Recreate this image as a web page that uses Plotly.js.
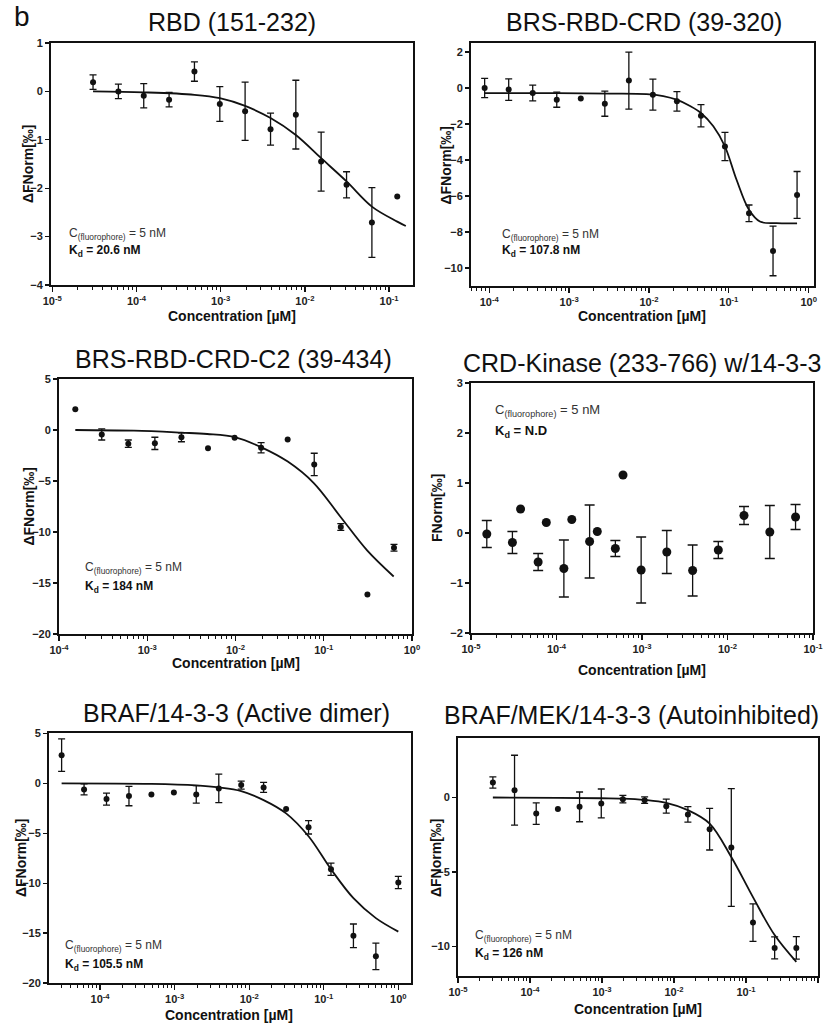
<!DOCTYPE html>
<html><head><meta charset="utf-8">
<script src="https://cdn.plot.ly/plotly-3.0.1.min.js"></script>
<style>html,body{margin:0;padding:0;background:#fff}#chart{width:826px;height:1024px}</style>
</head><body><div id="chart"></div>
<script>
const W = 826, H = 1024;

// ---------- Panel 1: RBD (151-232) ----------
const rbdConc = [3.05e-5, 6.1e-5, 1.22e-4, 2.44e-4, 4.88e-4, 9.77e-4, 1.95e-3, 3.91e-3, 7.81e-3, 0.0156, 0.03125, 0.0625, 0.125];
const rbdVal  = [0.19, 0, -0.09, -0.17, 0.41, -0.26, -0.41, -0.78, -0.48, -1.45, -1.93, -2.71, -2.17];
const rbdErr  = [0.15, 0.15, 0.25, 0.15, 0.2, 0.36, 0.6, 0.33, 0.71, 0.61, 0.27, 0.72, null];
const rbdFitConc = [3.05e-5, 1.22e-4, 4.88e-4, 9.77e-4, 1.95e-3, 3.91e-3, 7.81e-3, 0.0156, 0.03125, 0.0625, 0.125, 0.158];
const rbdFitVal  = [0, -0.02, -0.07, -0.14, -0.3, -0.55, -0.9, -1.38, -1.86, -2.38, -2.69, -2.78];

// ---------- Panel 2: BRS-RBD-CRD (39-320) ----------
const crdConc = [8.75e-5, 1.75e-4, 3.5e-4, 7.0e-4, 1.4e-3, 2.8e-3, 5.6e-3, 0.0112, 0.0224, 0.0448, 0.0895, 0.179, 0.358, 0.716];
const crdVal  = [0, -0.09, -0.28, -0.65, -0.58, -0.87, 0.41, -0.37, -0.74, -1.54, -3.25, -6.96, -9.05, -5.94];
const crdErr  = [0.54, 0.6, 0.44, 0.42, null, 0.7, 1.58, 0.86, 0.54, 0.62, 0.79, 0.46, 1.38, 1.3];
const crdFitConc = [8.75e-5, 6.97e-4, 3.24e-3, 9.35e-3, 0.0151, 0.0222, 0.0327, 0.0448, 0.064, 0.0895, 0.125, 0.179, 0.245, 0.397, 0.716];
const crdFitVal  = [-0.28, -0.29, -0.31, -0.34, -0.45, -0.65, -1.0, -1.39, -2.13, -3.25, -5.1, -6.77, -7.42, -7.51, -7.52];

// ---------- Panel 3: BRS-RBD-CRD-C2 (39-434) ----------
const c2Conc = [1.53e-4, 3.05e-4, 6.1e-4, 1.22e-3, 2.44e-3, 4.88e-3, 9.77e-3, 0.0195, 0.039, 0.078, 0.156, 0.3125, 0.625];
const c2Val  = [2.03, -0.43, -1.34, -1.31, -0.72, -1.80, -0.75, -1.74, -0.92, -3.38, -9.51, -16.13, -11.54];
const c2Err  = [null, 0.55, 0.36, 0.6, 0.43, null, null, 0.5, null, 1.1, 0.33, null, 0.33];
const c2FitConc = [1.53e-4, 7.06e-4, 2.45e-3, 4.78e-3, 0.01, 0.0197, 0.0391, 0.0771, 0.1545, 0.31, 0.62];
const c2FitVal  = [0, -0.07, -0.26, -0.39, -0.72, -1.7, -3.1, -5.2, -8.5, -11.8, -14.36];

// ---------- Panel 4: CRD-Kinase (233-766) w/14-3-3 ----------
const kinConc = [1.53e-5, 3.05e-5, 3.8e-5, 6.1e-5, 7.6e-5, 1.22e-4, 1.51e-4, 2.44e-4, 3.0e-4, 4.88e-4, 6.0e-4, 9.77e-4, 1.95e-3, 3.91e-3, 7.81e-3, 0.0156, 0.03125, 0.0625];
const kinVal  = [-0.02, -0.19, 0.48, -0.58, 0.21, -0.71, 0.27, -0.17, 0.03, -0.31, 1.16, -0.74, -0.38, -0.75, -0.34, 0.35, 0.02, 0.32];
const kinErr  = [0.27, 0.22, null, 0.17, null, 0.57, null, 0.73, null, 0.16, null, 0.66, 0.43, 0.51, 0.17, 0.18, 0.53, 0.25];

// ---------- Panel 5: BRAF/14-3-3 (Active dimer) ----------
const dimConc = [3.05e-5, 6.1e-5, 1.22e-4, 2.44e-4, 4.88e-4, 9.77e-4, 1.95e-3, 3.91e-3, 7.81e-3, 0.0156, 0.03125, 0.0625, 0.125, 0.25, 0.5, 1.0];
const dimVal  = [2.83, -0.6, -1.57, -1.27, -1.1, -0.9, -1.1, -0.5, -0.17, -0.4, -2.57, -4.4, -8.6, -15.27, -17.33, -9.93];
const dimErr  = [1.63, 0.55, 0.6, 0.97, null, null, 0.88, 1.43, 0.4, 0.5, null, 0.67, 0.62, 1.18, 1.33, 0.62];
const dimFitConc = [3.05e-5, 4.88e-4, 1.95e-3, 3.91e-3, 7.81e-3, 0.0156, 0.03125, 0.0625, 0.125, 0.25, 0.5, 1.0];
const dimFitVal  = [0, -0.05, -0.2, -0.4, -0.77, -1.67, -3.0, -5.3, -8.6, -11.5, -13.5, -14.85];

// ---------- Panel 6: BRAF/MEK/14-3-3 (Autoinhibited) ----------
const autoConc = [3.05e-5, 6.1e-5, 1.22e-4, 2.44e-4, 4.88e-4, 9.77e-4, 1.95e-3, 3.91e-3, 7.81e-3, 0.0156, 0.03125, 0.0625, 0.125, 0.25, 0.5];
const autoVal  = [1.01, 0.49, -1.08, -0.78, -0.63, -0.40, -0.11, -0.18, -0.58, -1.14, -2.13, -3.36, -8.41, -10.11, -10.11];
const autoErr  = [0.38, 2.35, 0.72, null, 1.0, 0.97, 0.25, 0.22, 0.47, 0.52, 1.4, 3.96, 1.26, 0.74, 0.76];
const autoFitConc = [3.05e-5, 2.44e-4, 9.77e-4, 1.95e-3, 3.91e-3, 7.81e-3, 0.0156, 0.03125, 0.0625, 0.125, 0.25, 0.5];
const autoFitVal  = [0, -0.02, -0.05, -0.07, -0.16, -0.36, -0.85, -1.75, -4.0, -6.7, -9.25, -11.05];

// ---------- Text ----------
const panelTitles = ["RBD (151-232)", "BRS-RBD-CRD (39-320)", "BRS-RBD-CRD-C2 (39-434)",
                     "CRD-Kinase (233-766) w/14-3-3", "BRAF/14-3-3 (Active dimer)", "BRAF/MEK/14-3-3 (Autoinhibited)"];
const yTitles = ["ΔFNorm[‰]", "ΔFNorm[‰]", "ΔFNorm[‰]", "FNorm[‰]", "ΔFNorm[‰]", "ΔFNorm[‰]"];
const xTitle = "Concentration [µM]";
const kdLabels = ["20.6 nM", "107.8 nM", "184 nM", "N.D", "105.5 nM", "126 nM"];
const fluorLabel = "5 nM";

const panels = [
  {conc: rbdConc, val: rbdVal, err: rbdErr, fitX: rbdFitConc, fitY: rbdFitVal},
  {conc: crdConc, val: crdVal, err: crdErr, fitX: crdFitConc, fitY: crdFitVal},
  {conc: c2Conc, val: c2Val, err: c2Err, fitX: c2FitConc, fitY: c2FitVal},
  {conc: kinConc, val: kinVal, err: kinErr, fitX: null, fitY: null},
  {conc: dimConc, val: dimVal, err: dimErr, fitX: dimFitConc, fitY: dimFitVal},
  {conc: autoConc, val: autoVal, err: autoErr, fitX: autoFitConc, fitY: autoFitVal}
];

// ---------- Layout geometry (pixels) ----------
const boxes = [[51,413,43,285],[471,814,43,286],[59,412,379,634],[471,813,383,633],[49,411,733,983],[458,818,738,976]];
const xRanges = [[-5.015,-0.716],[-4.229,0.067],[-4,0],[-5,-1],[-4.685,0.17],[-5,0]];
const yRanges = [[-4,1],[-11,2.5],[-20,5],[-2,3],[-20,5.05],[-12,4]];
const yDticks = [1,2,5,1,5,5];
const titlePos = [[232,22],[644,22],[233,359],[642,363],[236,713],[631,715]];
const xTitlePos = [[232,316],[642,316],[236,663],[642,670],[229,1015],[638,1009]];
const yTitleX = [28,445,28,437,21,436];
const cPos = [[67,234,251],[500,235,251],[83,568,587],[493,410,431],[63,946,965],[473,936,954]];
const mSize = [6,6,6,9,6,6];
const capW = [3.5,3.5,3.5,5,3.5,3.5];
const annoSize = [12,12,12,13,12,12];

const FONT = "Arial, 'Liberation Sans', Helvetica, sans-serif";
const px = v => v / W, py = v => 1 - v / H;

function minorVals(lo, hi) {
  const v = [];
  for (let k = Math.floor(lo); k <= Math.ceil(hi); k++)
    for (let m = 2; m <= 9; m++) {
      const val = m * Math.pow(10, k), l = Math.log10(val);
      if (l >= lo && l <= hi) v.push(val);
    }
  return v;
}
function majorVals(lo, hi) {
  const vals = [], txt = [];
  for (let k = Math.ceil(lo - 1e-9); k <= Math.floor(hi + 1e-9); k++) {
    vals.push(Math.pow(10, k)); txt.push('10<sup>' + k + '</sup>');
  }
  return {vals, txt};
}

const traces = [], layout = {
  width: W, height: H, margin: {l:0, r:0, t:0, b:0},
  paper_bgcolor: '#fff', plot_bgcolor: '#fff', showlegend: false,
  font: {family: FONT, color: '#111'}, annotations: []
};

panels.forEach((p, i) => {
  const n = i + 1, xs = 'x' + (n === 1 ? '' : n), ys = 'y' + (n === 1 ? '' : n);
  const b = boxes[i];
  const maj = majorVals(xRanges[i][0], xRanges[i][1]);
  layout['xaxis' + (n === 1 ? '' : n)] = {
    type: 'log', domain: [px(b[0]), px(b[1])], anchor: ys, range: xRanges[i],
    tickmode: 'array', tickvals: maj.vals, ticktext: maj.txt,
    ticks: 'outside', ticklen: 5, tickwidth: 1.3, tickcolor: '#111',
    minor: {tickmode: 'array', tickvals: minorVals(xRanges[i][0], xRanges[i][1]), ticks: 'outside', ticklen: 3, tickwidth: 1, tickcolor: '#111'},
    showline: true, mirror: true, linecolor: '#111', linewidth: 2,
    showgrid: false, zeroline: false,
    tickfont: {size: 11, weight: 'bold', color: '#222', family: FONT}
  };
  layout['yaxis' + (n === 1 ? '' : n)] = {
    domain: [py(b[3]), py(b[2])], anchor: xs, range: yRanges[i], dtick: yDticks[i], tick0: 0,
    ticks: 'outside', ticklen: 4, tickwidth: 1.3, tickcolor: '#111',
    showline: true, mirror: true, linecolor: '#111', linewidth: 2,
    showgrid: false, zeroline: false,
    tickfont: {size: 11, weight: 'bold', color: '#222', family: FONT}
  };

  if (p.fitX) traces.push({
    type: 'scatter', mode: 'lines', x: p.fitX, y: p.fitY, xaxis: xs, yaxis: ys,
    line: {color: '#111', width: 1.8, shape: 'spline', smoothing: 1}, hoverinfo: 'skip'
  });
  const ex = [], ey = [], ee = [], nx = [], ny = [];
  p.conc.forEach((c, j) => {
    if (p.err[j] === null) { nx.push(c); ny.push(p.val[j]); }
    else { ex.push(c); ey.push(p.val[j]); ee.push(p.err[j]); }
  });
  traces.push({
    type: 'scatter', mode: 'markers', x: ex, y: ey, xaxis: xs, yaxis: ys,
    marker: {color: '#111', size: mSize[i]},
    error_y: {type: 'data', array: ee, visible: true, color: '#111', thickness: 1.3, width: capW[i]}
  });
  if (nx.length) traces.push({
    type: 'scatter', mode: 'markers', x: nx, y: ny, xaxis: xs, yaxis: ys,
    marker: {color: '#111', size: mSize[i]}
  });

  const A = layout.annotations;
  A.push({xref:'paper', yref:'paper', x: px(titlePos[i][0]), y: py(titlePos[i][1]), xanchor:'center', yanchor:'middle',
    text: panelTitles[i], showarrow:false, font:{size:25, color:'#111', family: FONT}});
  A.push({xref:'paper', yref:'paper', x: px(xTitlePos[i][0]), y: py(xTitlePos[i][1]), xanchor:'center', yanchor:'middle',
    text: '<b>' + xTitle + '</b>', showarrow:false, font:{size:14, color:'#111', family: FONT}});
  A.push({xref:'paper', yref:'paper', x: px(yTitleX[i]), y: py((b[2]+b[3])/2), xanchor:'center', yanchor:'middle', textangle: -90,
    text: '<b>' + yTitles[i] + '</b>', showarrow:false, font:{size:14, color:'#111', family: FONT}});
  A.push({xref:'paper', yref:'paper', x: px(cPos[i][0]), y: py(cPos[i][1]), xanchor:'left', yanchor:'middle',
    text: 'C<sub>(fluorophore)</sub> = ' + fluorLabel, showarrow:false, font:{size:annoSize[i], color:'#333', family: FONT}});
  A.push({xref:'paper', yref:'paper', x: px(cPos[i][0]), y: py(cPos[i][2]), xanchor:'left', yanchor:'middle',
    text: '<b>K<sub>d</sub> = ' + kdLabels[i] + '</b>', showarrow:false, font:{size:annoSize[i], color:'#111', family: FONT}});
});

layout.annotations.push({xref:'paper', yref:'paper', x: px(12), y: py(16), xanchor:'left', yanchor:'middle',
  text: 'b', showarrow:false, font:{size:28, color:'#111', family: FONT}});

Plotly.newPlot('chart', traces, layout, {staticPlot: true});
</script>
</body></html>
